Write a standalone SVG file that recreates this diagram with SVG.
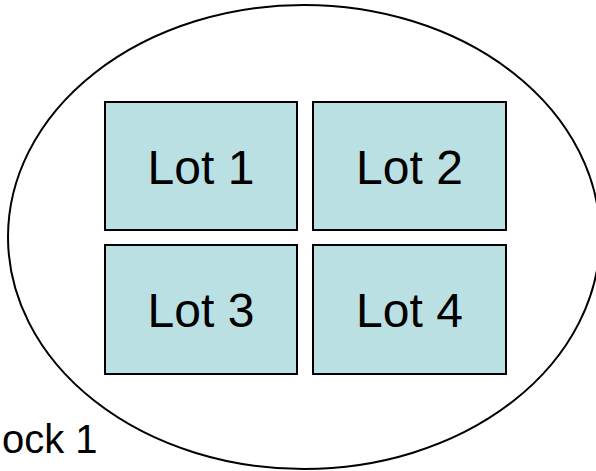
<svg xmlns="http://www.w3.org/2000/svg" width="596" height="471" viewBox="0 0 596 471">
<style>
.lot{fill:#BBE0E3;stroke:#000;stroke-width:2}
.lbl{font-family:"Liberation Sans",Arial,sans-serif;font-size:48px;fill:#000;text-anchor:middle}
</style>
<rect width="596" height="471" fill="#fff"/>
<g id="block">
<ellipse cx="304" cy="237" rx="296" ry="232" fill="none" stroke="#000" stroke-width="2"/>
<text x="2" y="453" style="font-family:'Liberation Sans',Arial,sans-serif;font-size:40px;fill:#000">ock 1</text>
</g>
<g id="lot1"><rect class="lot" x="105" y="102" width="192" height="128"/><text class="lbl" x="201" y="184">Lot 1</text></g>
<g id="lot2"><rect class="lot" x="313" y="102" width="193" height="128"/><text class="lbl" x="409.5" y="184">Lot 2</text></g>
<g id="lot3"><rect class="lot" x="105" y="245" width="192" height="129"/><text class="lbl" x="201" y="327">Lot 3</text></g>
<g id="lot4"><rect class="lot" x="313" y="245" width="193" height="129"/><text class="lbl" x="409.5" y="327">Lot 4</text></g>
<g id="connectors"/>
</svg>
